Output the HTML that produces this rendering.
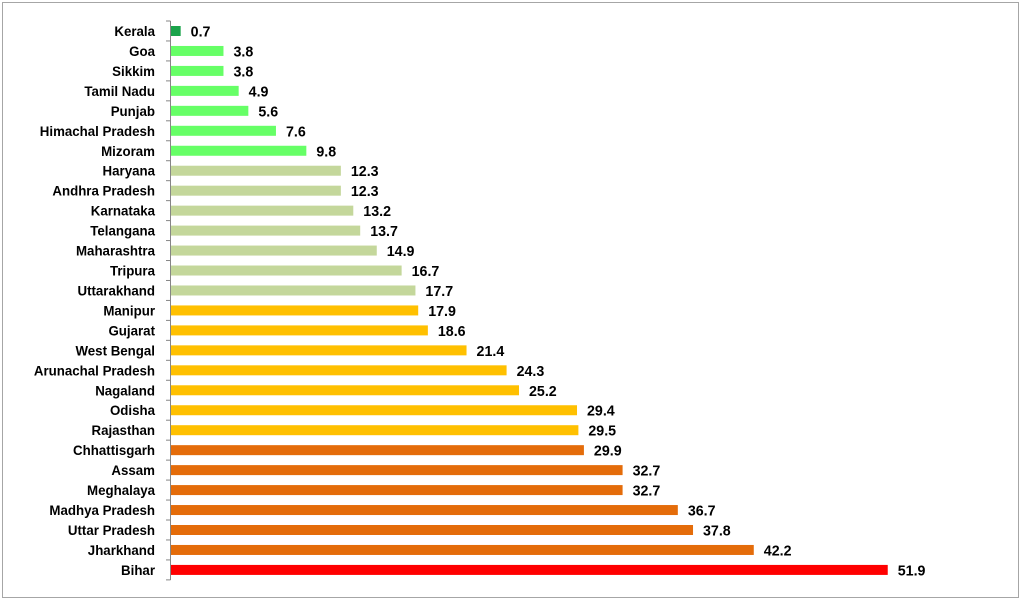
<!DOCTYPE html>
<html><head><meta charset="utf-8"><style>
body{margin:0;background:#fff;width:1022px;height:602px;overflow:hidden}
text{font-family:"Liberation Sans",sans-serif;font-weight:bold;fill:#000}
</style></head><body>
<svg width="1022" height="602" xmlns="http://www.w3.org/2000/svg">
<rect x="2.5" y="2.5" width="1016" height="595" fill="#fff" stroke="#a6a6a6" stroke-width="1"/>
<g id="c"></g>
</svg>
<script>
const d=[["Kerala",0.7,"#1aa34a"],["Goa",3.8,"#66ff66"],["Sikkim",3.8,"#66ff66"],["Tamil Nadu",4.9,"#66ff66"],["Punjab",5.6,"#66ff66"],["Himachal Pradesh",7.6,"#66ff66"],["Mizoram",9.8,"#66ff66"],["Haryana",12.3,"#c4d79b"],["Andhra Pradesh",12.3,"#c4d79b"],["Karnataka",13.2,"#c4d79b"],["Telangana",13.7,"#c4d79b"],["Maharashtra",14.9,"#c4d79b"],["Tripura",16.7,"#c4d79b"],["Uttarakhand",17.7,"#c4d79b"],["Manipur",17.9,"#ffc000"],["Gujarat",18.6,"#ffc000"],["West Bengal",21.4,"#ffc000"],["Arunachal Pradesh",24.3,"#ffc000"],["Nagaland",25.2,"#ffc000"],["Odisha",29.4,"#ffc000"],["Rajasthan",29.5,"#ffc000"],["Chhattisgarh",29.9,"#e46c0a"],["Assam",32.7,"#e46c0a"],["Meghalaya",32.7,"#e46c0a"],["Madhya Pradesh",36.7,"#e46c0a"],["Uttar Pradesh",37.8,"#e46c0a"],["Jharkhand",42.2,"#e46c0a"],["Bihar",51.9,"#ff0000"]];
let s='';const x0=170.5,k=13.81;
d.forEach((r,i)=>{const cy=31+i*19.96;const w=r[1]*k;
s+=`<rect x="171" y="${cy-5}" width="${w}" height="10" fill="${r[2]}"/>`;
s+=`<text transform="translate(155 ${cy+5}) scale(0.95 1)" text-anchor="end" font-size="14">${r[0]}</text>`;
s+=`<text transform="translate(${171+w+10} ${cy+5.5}) scale(0.95 1)" font-size="15">${r[1].toFixed(1)}</text>`;});
for(let i=0;i<=28;i++){const y=21+i*19.96;s+=`<line x1="166" x2="170.5" y1="${y}" y2="${y}" stroke="#868686"/>`;}
s+=`<line x1="${x0}" x2="${x0}" y1="21" y2="580" stroke="#868686"/>`;
document.getElementById('c').innerHTML=s;
</script>
</body></html>
